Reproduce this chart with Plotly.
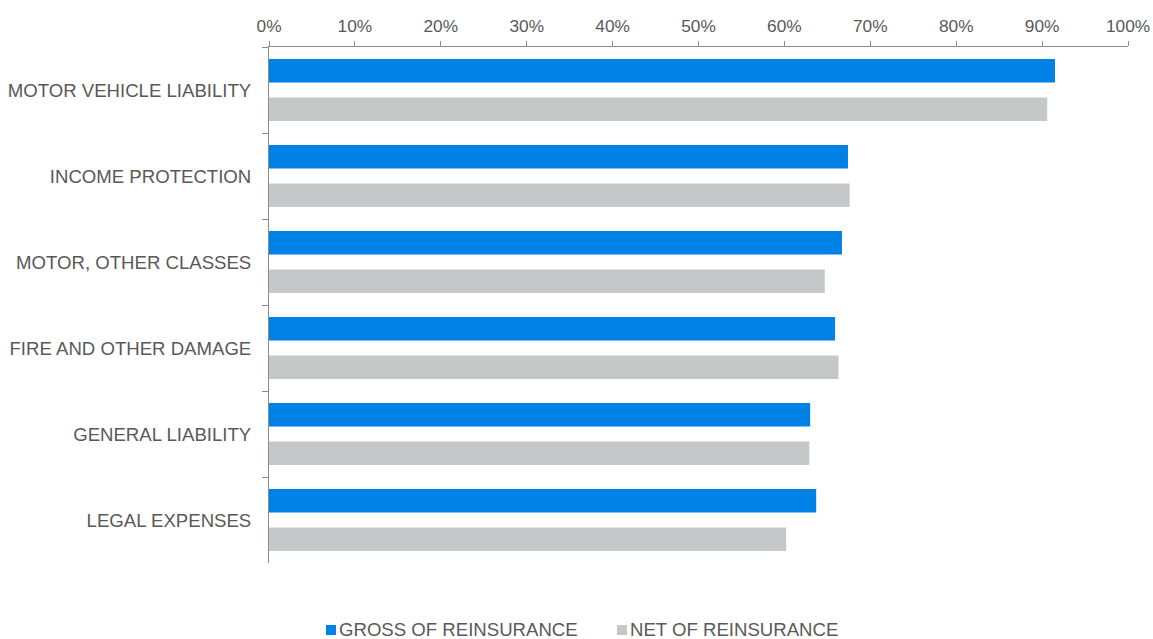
import plotly.graph_objects as go

categories = [
    "MOTOR VEHICLE LIABILITY",
    "INCOME PROTECTION",
    "MOTOR, OTHER CLASSES",
    "FIRE AND OTHER DAMAGE",
    "GENERAL LIABILITY",
    "LEGAL EXPENSES",
]
gross = [0.915, 0.674, 0.667, 0.659, 0.630, 0.637]
net = [0.906, 0.676, 0.647, 0.663, 0.629, 0.602]
series_names = ["GROSS OF REINSURANCE", "NET OF REINSURANCE"]
series_colors = ["#0081e6", "#c5c8c9"]
tick_vals = [i / 10 for i in range(11)]
tick_text = [f"{i * 10}%" for i in range(11)]

FONT = "Arial, 'Liberation Sans', sans-serif"
TEXT = "#595959"
LINE = "#8c8c8c"

W, H = 1153, 639
L, R, T, B = 269, 25, 47, 76
PW, PH = W - L - R, H - T - B


def px_x(px):
    return (px - L) / PW


def px_y(py):
    return (H - B - py) / PH


fig = go.Figure()
fig.add_trace(go.Bar(y=categories, x=gross, orientation="h", name=series_names[0],
                     marker=dict(color=series_colors[0], line=dict(width=0)), showlegend=False))
fig.add_trace(go.Bar(y=categories, x=net, orientation="h", name=series_names[1],
                     marker=dict(color=series_colors[1], line=dict(width=0)), showlegend=False))

# legend drawn as swatch + text, placed below the plot
legend_items = [(326, series_names[0], series_colors[0]), (617, series_names[1], series_colors[1])]
shapes = []
annotations = []
for x0, name, col in legend_items:
    shapes.append(dict(type="rect", xref="paper", yref="paper",
                       x0=px_x(x0), x1=px_x(x0 + 10), y0=px_y(635), y1=px_y(625),
                       fillcolor=col, line=dict(width=0)))
    annotations.append(dict(xref="paper", yref="paper", x=px_x(x0 + 12), y=px_y(629.5),
                            xanchor="left", yanchor="middle", showarrow=False, text=name,
                            font=dict(size=18.6, color=TEXT, family=FONT), borderpad=0))

fig.update_layout(
    width=W, height=H,
    margin=dict(l=L, r=R, t=T, b=B, autoexpand=False),
    paper_bgcolor="white", plot_bgcolor="white",
    barmode="group", bargap=0.105, bargroupgap=0.39,
    font=dict(family=FONT, color=TEXT, size=17),
    showlegend=False,
    shapes=shapes,
    annotations=annotations,
    xaxis=dict(side="top", range=[0, 1], tickvals=tick_vals, ticktext=tick_text,
               showgrid=False, zeroline=False, showline=True, linecolor=LINE, linewidth=1,
               ticks="outside", ticklen=5, tickcolor=LINE, automargin=False,
               ticklabelstandoff=2,
               tickfont=dict(size=17.3, color=TEXT)),
    yaxis=dict(categoryorder="array", categoryarray=categories, autorange="reversed",
               showgrid=False, zeroline=False, showline=True, linecolor=LINE, linewidth=1,
               ticks="outside", ticklen=6, tickcolor=LINE, tickson="boundaries",
               ticklabelstandoff=13, automargin=False,
               tickfont=dict(size=18.6, color=TEXT)),
)

fig.write_html("out.html", config={"displayModeBar": False},
               post_script="document.body.style.margin='0';")
